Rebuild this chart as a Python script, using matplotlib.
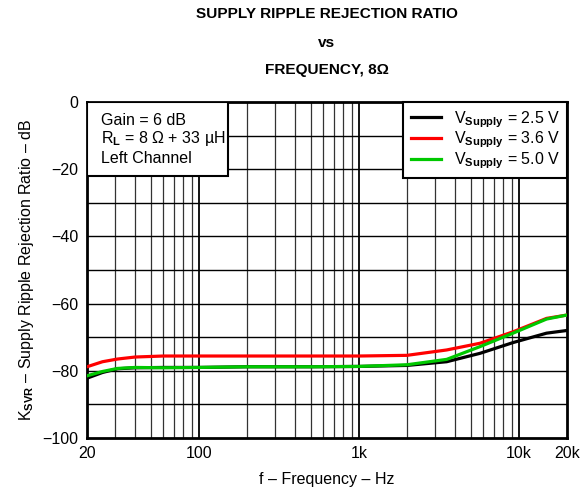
import matplotlib
matplotlib.use('Agg')

import numpy as np
import matplotlib.pyplot as plt
from matplotlib import font_manager
from matplotlib.patches import Rectangle
from matplotlib.ticker import FixedLocator, NullFormatter

plt.rcParams['font.family'] = ['Liberation Sans', 'DejaVu Sans']
plt.rcParams['mathtext.fontset'] = 'custom'
plt.rcParams['mathtext.rm'] = 'Liberation Sans'
plt.rcParams['mathtext.bf'] = 'Liberation Sans:bold'
plt.rcParams['mathtext.it'] = 'Liberation Sans:italic'

# Frequency points (Hz) and KSVR values (dB)
freq = [20, 25, 31, 40, 60, 100, 200, 500, 1000, 2000, 3540, 5720, 9200, 14900, 20000]
ksvr_2v5 = [-82.2, -80.5, -79.4, -79.1, -79.0, -79.0, -78.8, -78.8, -78.7, -78.4, -77.3, -74.8, -71.6, -68.8, -68.0]
ksvr_3v6 = [-78.8, -77.3, -76.5, -75.9, -75.6, -75.6, -75.6, -75.6, -75.6, -75.4, -73.8, -71.8, -68.4, -64.4, -63.4]
ksvr_5v0 = [-81.5, -80.2, -79.3, -79.0, -79.1, -79.0, -78.8, -78.8, -78.7, -78.2, -76.6, -72.8, -68.8, -64.6, -63.4]

labels = [r'V$_{\mathbf{Supply}}$ = 2.5 V', r'V$_{\mathbf{Supply}}$ = 3.6 V', r'V$_{\mathbf{Supply}}$ = 5.0 V']
colors = ['black', '#ff0000', '#00c800']

xticks = [20, 100, 1000, 10000, 20000]
xticklabels = ['20', '100', '1k', '10k', '20k']
yticks = [0, -20, -40, -60, -80, -100]
yticklabels = ['0', '\u221220', '\u221240', '\u221260', '\u221280', '\u2212100']

title_lines = ['SUPPLY RIPPLE REJECTION RATIO', 'vs', 'FREQUENCY, 8\u03a9']

# narrow bold face for the title if it is there
names = {f.name for f in font_manager.fontManager.ttflist}
if 'Liberation Sans Narrow' in names:
    title_font = dict(family=['Liberation Sans Narrow', 'DejaVu Sans'], fontsize=13.5)
else:
    title_font = dict(family=['Liberation Sans', 'DejaVu Sans'], fontsize=11.1)

fig = plt.figure(figsize=(5.87, 4.92), dpi=100)
ax = fig.add_axes([87/587, 1-438/492, 480/587, 336/492])

# grid
minor = [m * d for d in (10, 100, 1000) for m in range(2, 10)]
minor = [f for f in minor if 20 < f < 20000 and f not in (100, 1000, 10000)]
for f in minor:
    ax.axvline(f, color='#333333', lw=0.9, zorder=1)
for f in (100, 1000, 10000):
    ax.axvline(f, color='black', lw=1.3, zorder=1)
for y in range(-90, 0, 10):
    ax.axhline(y, color='black', lw=1.0, zorder=1)

for vals, c, lab in zip([ksvr_2v5, ksvr_3v6, ksvr_5v0], colors, labels):
    ax.plot(freq, vals, color=c, lw=2.3, label=lab, zorder=3)

ax.set_xscale('log')
ax.set_xlim(20, 20000)
ax.set_ylim(-100, 0)
ax.xaxis.set_major_locator(FixedLocator(xticks))
ax.set_xticklabels(xticklabels)
ax.xaxis.set_minor_formatter(NullFormatter())
ax.set_yticks(yticks)
ax.set_yticklabels(yticklabels)
ax.tick_params(which='both', length=0, labelsize=11.5, pad=6)
for s in ax.spines.values():
    s.set_linewidth(2)

ax.set_xlabel('f \u2013 Frequency \u2013 Hz', fontsize=11.5, labelpad=8)
ax.set_ylabel('K$_{\\mathbf{SVR}}$ \u2013 Supply Ripple Rejection Ratio \u2013 dB',
              fontsize=11.5, labelpad=5)

# condition box
ax.add_patch(Rectangle((0, 0.78), 0.294, 0.22, transform=ax.transAxes,
                       facecolor='white', edgecolor='black', lw=1.5, zorder=4))
ax.text(0.03, 0.946, 'Gain = 6 dB', transform=ax.transAxes, fontsize=11.5, va='center', zorder=5)
ax.text(0.03, 0.89, 'R$_{\\mathbf{L}}$ = 8 \u03a9 + 33 \u00b5H',
        transform=ax.transAxes, fontsize=11.5, va='center', zorder=5)
ax.text(0.03, 0.833, 'Left Channel', transform=ax.transAxes, fontsize=11.5, va='center', zorder=5)

leg = ax.legend(loc='upper right', fontsize=11.5, frameon=True, fancybox=False,
                borderaxespad=0, handlelength=1.9, labelspacing=0.0, borderpad=0.45,
                handletextpad=0.8)
leg.get_frame().set_edgecolor('black')
leg.get_frame().set_linewidth(1.5)
leg.get_frame().set_alpha(1)
leg.set_zorder(5)

for line, ypx in zip(title_lines, (14, 43, 70)):
    fig.text(327/587, 1-ypx/492, line, ha='center', va='center', fontweight='bold', **title_font)

fig.savefig('out.png', dpi=100)
